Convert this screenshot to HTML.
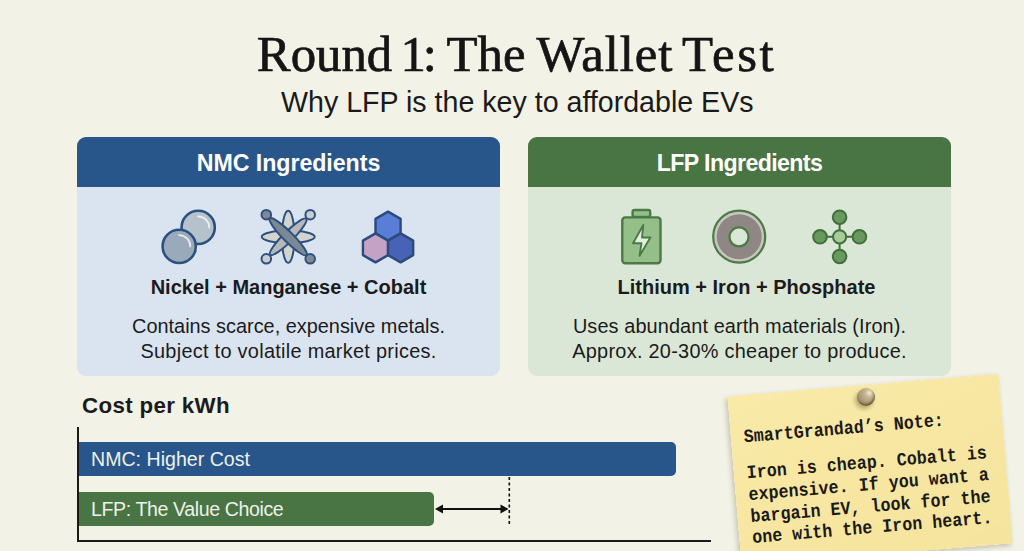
<!DOCTYPE html>
<html><head><meta charset="utf-8">
<style>
html,body{margin:0;padding:0;}
body{width:1024px;height:551px;overflow:hidden;position:relative;background:#F2F2E6;font-family:"Liberation Sans",sans-serif;color:#1B1B1B;}
.t{position:absolute;white-space:nowrap;line-height:1;}
.ttl{position:absolute;top:29.1px;white-space:nowrap;line-height:1;font-family:'Liberation Serif',serif;font-size:50.8px;color:#151515;-webkit-text-stroke:0.7px #151515;}
.card{position:absolute;top:137px;width:423px;height:239px;border-radius:9px;overflow:hidden;}
.card .hd{position:absolute;left:0;top:0;width:100%;height:50px;}
.nmc{left:77px;background:#DAE4F0;}
.nmc .hd{background:#29568A;}
.lfp{left:528px;background:#DAE7D6;}
.lfp .hd{background:#487543;}
.ctr{position:absolute;left:0;width:100%;text-align:center;white-space:nowrap;line-height:1;}
svg{position:absolute;left:0;top:0;}
.note{position:absolute;left:733.5px;top:384.5px;width:272px;height:170px;background:linear-gradient(160deg,#F9EAA8 0%,#F7E6A1 60%,#F5E49D 100%);transform:rotate(-4.8deg);box-shadow:-2px 2px 5px rgba(60,50,20,0.25);}
.nt{position:absolute;left:13px;transform:scaleY(1.12);transform-origin:0 12.45px;white-space:nowrap;font-family:"Liberation Mono",monospace;font-weight:bold;font-size:16.6px;letter-spacing:0.08px;line-height:1;color:#1C1A14;}
</style></head>
<body>
<div class="ttl" style="left:256.8px;">Round</div><div class="ttl" style="left:400.6px;">1</div><div class="ttl" style="left:422.8px;">:</div><div class="ttl" style="left:446.6px;">The</div><div class="ttl" style="left:536.4px;letter-spacing:0.95px;">Wallet</div><div class="ttl" style="left:682px;letter-spacing:2.6px;">Test</div>
<div class="t" style="left:281px;top:88px;font-size:28.6px;color:#1A1A1A;">Why LFP is the key to affordable EVs</div>

<div class="card nmc">
  <div class="hd"></div>
  <div class="ctr" style="top:15px;font-size:23.2px;letter-spacing:-0.05px;font-weight:bold;color:#fff;">NMC Ingredients</div>
  <div class="ctr" style="top:140.2px;font-size:20px;font-weight:bold;">Nickel + Manganese + Cobalt</div>
  <div class="ctr" style="top:177.1px;font-size:19.9px;line-height:24.6px;">Contains scarce, expensive metals.<br><span style="letter-spacing:0.29px">Subject to volatile market prices.</span></div>
</div>
<div class="card lfp">
  <div class="hd"></div>
  <div class="ctr" style="top:15px;font-size:23.2px;letter-spacing:-0.62px;font-weight:bold;color:#fff;">LFP Ingredients</div>
  <div class="ctr" style="top:140.2px;left:7px;font-size:20.03px;font-weight:bold;">Lithium + Iron + Phosphate</div>
  <div class="ctr" style="top:177.1px;font-size:19.9px;line-height:24.6px;"><span style="letter-spacing:0.1px">Uses abundant earth materials (Iron).</span><br><span style="letter-spacing:0.28px">Approx. 20-30% cheaper to produce.</span></div>
</div>

<div class="t" style="left:82px;top:395.2px;font-size:22.3px;font-weight:bold;letter-spacing:0.35px;">Cost per kWh</div>
<div style="position:absolute;left:77px;top:427px;width:2px;height:115px;background:#1A1A1A;"></div>
<div style="position:absolute;left:77px;top:540px;width:634px;height:2px;background:#1A1A1A;"></div>
<div style="position:absolute;left:79px;top:442px;width:597px;height:34px;background:#29568A;border-radius:0 5px 5px 0;"></div>
<div style="position:absolute;left:79px;top:492px;width:355px;height:34px;background:#487543;border-radius:0 5px 5px 0;"></div>
<div class="t" style="left:91px;top:450px;font-size:19.6px;color:#EEF0EA;">NMC: Higher Cost</div>
<div class="t" style="left:91px;top:500px;font-size:19.6px;letter-spacing:-0.4px;color:#EEF0EA;">LFP: The Value Choice</div>

<svg width="1024" height="551" viewBox="0 0 1024 551">
  <!-- arrow -->
  <line x1="509.3" y1="477" x2="509.3" y2="526" stroke="#111" stroke-width="1.6" stroke-dasharray="3 2.5"/>
  <line x1="441" y1="509" x2="502" y2="509" stroke="#111" stroke-width="2"/>
  <path d="M435 509 L443 504.6 L443 513.4 Z" fill="#111"/>
  <path d="M508.5 509 L500.5 504.6 L500.5 513.4 Z" fill="#111"/>

  <!-- spheres -->
  <circle cx="198.2" cy="227.4" r="16.6" fill="#B6C2CB" stroke="#2C5080" stroke-width="2.6"/>
  <path d="M198 216.3 A11.3 11.3 0 0 1 209.3 227.6" fill="none" stroke="#F2F5F7" stroke-width="1.8" stroke-linecap="round" opacity="0.9"/>
  <circle cx="179.2" cy="246.4" r="16.6" fill="#9BAABA" stroke="#2C5080" stroke-width="2.6"/>
  <path d="M179 235.1 A11.3 11.3 0 0 1 190.3 246.4" fill="none" stroke="#EEF2F5" stroke-width="1.8" stroke-linecap="round" opacity="0.9"/>

  <!-- atom -->
  <g stroke="#2C5080" stroke-width="2">
    <line x1="266.3" y1="214.7" x2="310.2" y2="258.8"/>
    <line x1="310.2" y1="214.7" x2="266.3" y2="258.8"/>
    <ellipse cx="288.2" cy="236.8" rx="6.3" ry="26" fill="#D4D4CE"/>
    <ellipse cx="288.2" cy="236.8" rx="26.5" ry="6.2" fill="#D4D4CE"/>
    <ellipse cx="288.2" cy="236.8" rx="25.5" ry="5" fill="#B6B9BC" transform="rotate(-45 288.2 236.8)"/>
    <ellipse cx="288.2" cy="236.8" rx="26" ry="4.9" fill="#7C8894" transform="rotate(45 288.2 236.8)"/>
    <circle cx="266.3" cy="214.7" r="4.8" fill="#7F8A96"/>
    <circle cx="310.2" cy="214.7" r="4.8" fill="#C9CCD0"/>
    <circle cx="266.3" cy="258.8" r="4.8" fill="#C9CCD0"/>
    <circle cx="310.2" cy="258.8" r="4.8" fill="#7F8A96"/>
  </g>

  <!-- hexagons -->
  <g stroke="#2B4B7D" stroke-width="2.4" stroke-linejoin="round">
    <polygon id="hx" points="0,-14.5 12.56,-7.25 12.56,7.25 0,14.5 -12.56,7.25 -12.56,-7.25" transform="translate(388.05 226.1)" fill="#5A7ED8"/>
    <polygon points="0,-14.5 12.56,-7.25 12.56,7.25 0,14.5 -12.56,7.25 -12.56,-7.25" transform="translate(375.49 247.85)" fill="#C4A2C6"/>
    <polygon points="0,-14.5 12.56,-7.25 12.56,7.25 0,14.5 -12.56,7.25 -12.56,-7.25" transform="translate(400.61 247.85)" fill="#4862B6"/>
  </g>

  <!-- battery -->
  <g stroke="#4B7A46" stroke-width="2.4" stroke-linejoin="round">
    <rect x="632.6" y="210" width="17.6" height="7" rx="2" fill="#94BF88"/>
    <rect x="622.3" y="217.4" width="38.2" height="45.8" rx="3" fill="#94BF88"/>
    <path d="M643.3 225 L633 243.2 L641.5 243.2 L639.5 255.9 L650.4 237.5 L642 237.5 Z" fill="#E4EEDC" stroke-width="1.9"/>
  </g>

  <!-- washer -->
  <circle cx="739.2" cy="236.7" r="26" fill="#C9C5C2" stroke="#4B7A46" stroke-width="2.2"/>
  <circle cx="739.2" cy="236.7" r="22.5" fill="#8E8784"/>
  <circle cx="739" cy="236.9" r="9.5" fill="#DAE7D6" stroke="#4B7A46" stroke-width="2.2"/>

  <!-- molecule -->
  <g stroke="#3F6F3B" stroke-width="2">
    <line x1="839.6" y1="217.2" x2="839.6" y2="256.5"/>
    <line x1="820" y1="236.8" x2="859.4" y2="236.8"/>
    <circle cx="839.6" cy="217.2" r="6.8" fill="#6A9960"/>
    <circle cx="839.6" cy="256.5" r="6.8" fill="#6A9960"/>
    <circle cx="820" cy="236.8" r="6.8" fill="#6A9960"/>
    <circle cx="859.4" cy="236.8" r="6.8" fill="#6A9960"/>
    <circle cx="839.6" cy="236.8" r="6.6" fill="#A9CB9A"/>
  </g>
</svg>

<div class="note">
  <div class="nt" style="top:35px;">SmartGrandad’s Note:</div>
  <div class="nt" style="top:71px;">Iron is cheap. Cobalt is</div>
  <div class="nt" style="top:92.8px;">expensive. If you want a</div>
  <div class="nt" style="top:114.6px;">bargain EV, look for the</div>
  <div class="nt" style="top:136.4px;">one with the Iron heart.</div>
</div>
<div style="position:absolute;left:856.7px;top:388px;width:18px;height:18px;border-radius:50%;background:radial-gradient(circle at 68% 28%,#F4EEDC 0,#C9B793 22%,#AE9C76 55%,#7E6D4E 100%);box-shadow:-2px 3px 4px rgba(60,50,20,0.35), inset -1px -2px 2px rgba(70,55,30,0.55);"></div>
</body></html>
